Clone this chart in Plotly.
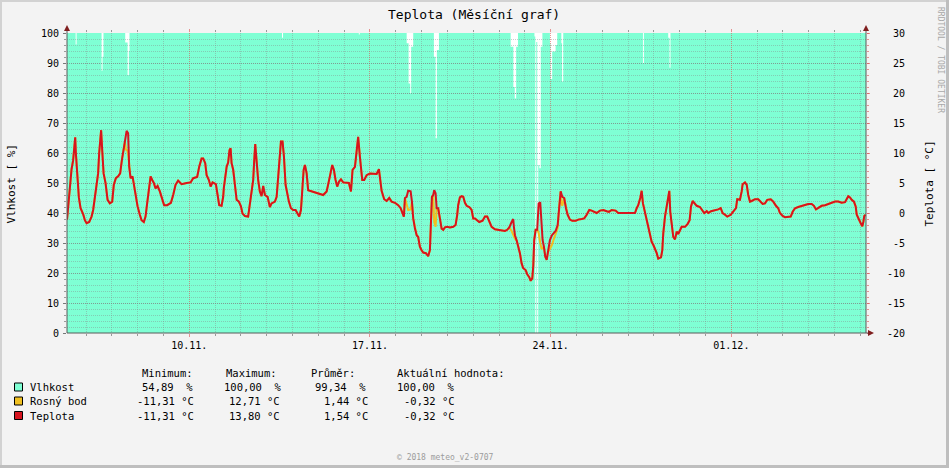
import pandas as pd
import plotly.graph_objects as go

# ---------------- texts ----------------
TITLE = "Teplota (Měsíční graf)"
LEFT_TITLE = "Vlhkost [ %]"
RIGHT_TITLE = "Teplota [ °C]"
WATERMARK = "RRDTOOL / TOBI OETIKER"
FOOTER = "© 2018 meteo_v2-0707"

# ---------------- time frame ----------------
ORIGIN = "2018-11-05 00:00"      # all hours below are counted from this moment
VIEW_START_H = 6.27
VIEW_END_H = 749.2
WEEK_TICK0 = "2018-11-10"

# ---------------- tick labels ----------------
HUM_TICKS = [0, 10, 20, 30, 40, 50, 60, 70, 80, 90, 100]
TEMP_TICKS = [-20, -15, -10, -5, 0, 5, 10, 15, 20, 25, 30]
TEMP_TICK_TEXT = ["-20", "-15", "-10", " -5", "  0", "  5", " 10", " 15", " 20", " 25", " 30"]

# ---------------- temperature [°C] ----------------
TEMP_HOURS = [
    6.3, 7.3, 8.9, 10.5, 12.0, 12.9, 13.9, 14.5, 15.7, 17.3,
    18.9, 21.3, 22.9, 24.5, 26.9, 29.1, 30.6, 32.2, 33.8, 35.2,
    36.2, 37.1, 38.0, 39.0, 40.3, 42.1, 44.0, 46.1, 48.3, 49.8,
    51.7, 53.8, 55.7, 57.3, 58.5, 60.1, 61.7, 63.1, 64.1, 65.4,
    67.2, 68.4, 70.0, 71.9, 74.0, 75.6, 77.7, 79.3, 80.8, 82.4,
    84.0, 85.5, 87.0, 88.6, 90.5, 92.6, 94.8, 96.6, 99.4, 102.9,
    105.0, 107.2, 109.6, 112.8, 117.5, 121.2, 123.6, 127.3, 129.2, 131.4,
    132.9, 134.8, 136.1, 138.2, 139.8, 141.6, 144.7, 146.3, 147.8, 150.0,
    151.5, 152.1, 153.1, 154.7, 156.1, 157.4, 158.4, 159.3, 160.8, 162.4,
    164.0, 166.1, 168.0, 169.5, 171.7, 174.7, 176.3, 177.9, 179.4, 180.3,
    181.3, 182.6, 184.0, 185.6, 187.2, 188.7, 190.3, 192.8, 194.9, 196.5,
    199.6, 201.2, 202.6, 204.2, 205.2, 206.7, 208.0, 209.5, 211.0, 212.6,
    214.5, 216.6, 218.8, 220.7, 222.2, 223.8, 225.0, 226.3, 227.5, 229.1,
    230.5, 232.1, 235.2, 238.4, 241.4, 244.5, 247.7, 249.1, 250.7, 252.9,
    254.4, 256.0, 257.5, 259.1, 261.0, 263.1, 266.3, 268.4, 270.3, 271.8,
    274.0, 275.6, 277.0, 278.6, 279.6, 280.8, 282.6, 284.9, 287.9, 291.0,
    294.2, 296.3, 297.2, 298.8, 301.2, 303.5, 305.9, 308.1, 311.2, 314.2,
    316.5, 318.3, 319.5, 320.5, 322.1, 323.5, 325.8, 327.0, 328.2, 329.8,
    331.4, 332.8, 334.4, 336.0, 337.5, 340.0, 342.1, 343.7, 344.7, 345.6,
    346.8, 347.7, 349.0, 350.0, 351.4, 353.0, 354.6, 356.1, 357.7, 359.8,
    362.3, 365.4, 367.6, 369.1, 370.0, 371.6, 373.2, 374.7, 376.3, 377.9,
    380.3, 382.5, 384.0, 385.6, 387.2, 389.6, 392.7, 394.9, 397.0, 398.9,
    401.1, 404.2, 407.2, 410.4, 413.5, 415.6, 417.5, 419.7, 421.2, 421.8,
    422.8, 424.4, 425.8, 427.4, 429.0, 430.5, 432.7, 434.2, 436.1, 437.4,
    438.9, 439.8, 440.7, 442.0, 443.5, 444.8, 446.3, 447.6, 448.5, 449.7,
    451.0, 452.3, 453.5, 455.3, 457.2, 459.0, 460.6, 462.5, 464.0, 465.3,
    466.8, 468.6, 470.2, 471.8, 473.9, 476.1, 479.2, 481.6, 484.8, 487.2,
    489.5, 491.9, 494.1, 496.5, 498.8, 501.8, 504.9, 508.1, 510.2, 512.7,
    516.4, 518.8, 522.0, 526.7, 531.3, 534.4, 536.0, 537.4, 539.3, 540.6,
    541.8, 543.7, 545.3, 546.7, 548.3, 549.9, 551.4, 553.0, 554.6, 556.0,
    558.6, 559.8, 560.7, 562.3, 563.9, 565.3, 566.3, 567.2, 568.5, 570.0,
    571.6, 573.2, 574.6, 576.2, 577.8, 580.9, 583.4, 585.2, 586.5, 588.0,
    589.5, 591.8, 594.8, 597.0, 598.8, 601.1, 602.5, 605.1, 608.1, 611.8,
    614.1, 615.9, 618.1, 620.2, 623.4, 625.8, 628.3, 629.5, 632.0, 633.6,
    634.5, 636.7, 638.3, 639.7, 641.3, 642.9, 646.0, 649.0, 651.3, 653.1,
    655.3, 657.4, 660.6, 663.0, 665.5, 667.6, 669.2, 671.7, 673.9, 677.0,
    679.2, 681.0, 683.2, 686.2, 689.4, 692.5, 695.5, 698.7, 700.8, 702.7,
    704.8, 708.0, 711.1, 714.1, 717.3, 720.4, 723.4, 726.6, 729.7, 731.3,
    732.7, 734.3, 735.9, 738.0, 739.6, 740.6, 741.8, 743.0, 744.3, 745.8,
    746.7, 747.6, 748.9,
]
TEMP_VALUES = [
    -1.1, 0.8, 4.1, 7.3, 8.8, 11.1, 12.6, 10.0, 5.8, 2.6,
    0.8, -0.2, -1.2, -1.7, -1.5, -0.6, 0.5, 2.7, 5.5, 6.6,
    10.0, 12.5, 13.8, 10.5, 6.6, 5.0, 2.2, 1.6, 1.9, 4.7,
    5.8, 6.1, 6.6, 8.8, 10.4, 11.9, 13.7, 13.3, 7.7, 5.8,
    6.1, 4.7, 2.5, 1.1, -0.3, -1.2, -1.5, -0.6, 1.6, 3.6,
    6.1, 5.5, 5.0, 4.1, 4.5, 3.6, 2.5, 1.3, 1.3, 1.7,
    3.0, 4.7, 5.4, 4.8, 5.0, 5.1, 5.8, 6.0, 7.7, 9.1,
    9.1, 8.3, 6.3, 5.5, 4.4, 5.1, 4.8, 3.3, 1.3, 1.2,
    2.7, 4.2, 5.8, 7.7, 8.4, 10.5, 10.8, 8.3, 7.2, 4.1,
    2.2, 1.9, 1.1, -0.1, -0.5, -0.6, 1.3, 3.6, 5.5, 8.6,
    11.5, 8.6, 5.5, 3.6, 2.8, 4.5, 3.0, 2.7, 1.0, 1.6,
    1.9, 2.7, 5.8, 9.4, 11.9, 11.9, 9.4, 4.7, 3.0, 1.9,
    0.8, 0.5, 0.5, -0.1, -0.6, 0.5, 4.1, 7.2, 8.0, 6.6,
    3.8, 3.7, 3.6, 3.3, 3.2, 3.0, 3.6, 5.0, 6.1, 8.0,
    7.2, 5.5, 4.4, 5.2, 5.6, 5.1, 5.1, 5.0, 3.6, 7.2,
    7.7, 10.8, 12.7, 9.4, 7.7, 5.5, 5.5, 6.3, 6.6, 6.5,
    6.5, 7.3, 5.5, 3.7, 2.3, 2.0, 2.5, 1.9, 1.7, 1.3,
    0.8, -0.3, -0.6, 2.5, 2.7, 3.7, 3.6, 1.9, -0.9, -2.6,
    -3.7, -4.0, -5.6, -6.2, -6.6, -6.7, -7.2, -6.2, -2.3, 2.7,
    3.0, 3.8, 3.3, 0.8, 0.8, -0.6, -2.6, -2.8, -2.4, -2.3,
    -2.4, -2.3, -2.0, -0.3, 1.3, 2.6, 2.8, 2.7, 1.7, 1.2,
    1.0, 0.5, -0.9, -0.9, -1.2, -1.5, -1.3, -0.6, -0.6, -1.5,
    -2.3, -2.7, -2.8, -3.0, -3.0, -2.8, -2.4, -1.5, -1.0, -2.3,
    -3.7, -4.6, -5.6, -6.7, -8.4, -9.2, -9.5, -10.2, -10.7, -11.3,
    -10.9, -8.9, -4.5, -2.8, -2.8, 1.6, 1.8, -1.2, -4.5, -5.6,
    -7.3, -7.8, -6.5, -4.5, -3.7, -3.4, -3.0, -2.0, 1.3, 3.6,
    2.7, 2.5, 0.8, -0.3, -1.1, -1.3, -1.3, -1.1, -1.0, -0.9,
    -0.3, 0.5, 0.4, 0.2, 0.0, 0.4, 0.5, 0.3, 0.2, 0.5,
    0.4, 0.0, 0.0, 0.0, 0.0, 0.0, 0.8, 1.3, 2.5, 3.7,
    1.6, 0.0, -0.9, -2.0, -3.4, -4.8, -5.3, -5.9, -6.7, -7.6,
    -7.4, -6.2, -3.4, -0.6, 1.1, 2.3, 3.7, 0.2, -2.0, -4.0,
    -4.4, -3.1, -3.5, -2.8, -2.3, -2.3, -1.8, -1.2, 1.1, 2.0,
    1.6, 1.2, 1.0, 0.5, 0.0, 0.3, 0.0, 0.3, 0.4, 0.6,
    0.8, 0.0, -0.3, -0.6, -0.3, 0.2, 0.8, 2.3, 2.2, 3.6,
    4.8, 5.1, 4.7, 3.0, 1.9, 2.0, 2.3, 2.3, 1.9, 1.5,
    1.6, 2.2, 2.3, 1.9, 1.2, 0.8, 0.0, -0.5, -0.7, -0.7,
    -0.6, 0.2, 0.8, 1.0, 1.2, 1.3, 1.5, 1.5, 1.2, 0.6,
    0.8, 1.2, 1.3, 1.5, 1.7, 1.9, 1.9, 1.7, 1.8, 2.5,
    2.8, 2.6, 2.2, 1.9, 1.1, -0.3, -0.9, -1.2, -1.7, -2.2,
    -1.5, -0.5, -0.3,
]

# ---------------- relative humidity [%] (step samples, None = no data) ----------------
HUM_HOURS = [
    6.3, 14.3, 15.2,
    38.4, 39.3, 40.2,
    60.4, 62.6, 63.8, 64.4,
    206.2, 207.1,
    277.6, 278.5,
    322.1, 323.9, 325.4, 326.3, 328.2,
    347.4, 349.0, 350.2, 352.1,
    418.8, 421.3, 422.6, 423.9, 425.6,
    440.9, 441.7, 441.8, 442.6, 443.5, 443.6, 444.4, 445.5, 446.8, 448.3,
    455.3, 455.9, 457.4, 460.6, 462.1,
    465.9, 466.6, 467.7,
    541.8, 542.7,
    565.3, 566.5, 567.4,
    749.2,
]
HUM_VALUES = [
    100, 96.2, 100,
    87.4, 92.1, 100,
    96.8, 86.0, 94.0, 100,
    98.4, 100,
    99.5, 100,
    96.6, 83.2, 79.9, 95.4, 100,
    92.1, 64.9, 94.3, 100,
    95.4, 82.0, 78.2, 95.4, 100,
    98.8, 98.8, None, 97.0, 97.0, None, 56.0, 54.9, 95.4, 100,
    96.6, 84.7, 93.8, 96.0, 100,
    96.6, 83.8, 100,
    89.9, 100,
    98.4, 88.4, 100,
    100,
]

# ---------------- dew point [°C]: stretches where it falls below the temperature ----------------
# (elsewhere the air is saturated and the dew point coincides with the temperature)
DEW_SEG_HOURS = [
    [60.1, 61.0, 62.4, 63.3, 64.1],
    [320.5, 322.1, 323.5, 325.8, 327.0],
    [346.8, 347.7, 349.0, 350.0],
    [417.5, 419.7, 421.2, 422.8, 424.4],
    [443.5, 444.8, 446.3, 447.6, 449.7],
    [453.5, 455.3, 457.2, 459.0, 460.6, 462.5],
    [465.3, 466.0, 466.8, 468.6],
]
DEW_SEG_VALUES = [
    [11.9, 10.6, 10.4, 9.5, 7.7],
    [2.5, 1.2, 0.5, 0.6, 1.9],
    [3.0, -1.5, -2.3, 0.8],
    [-2.4, -3.0, -3.6, -4.3, -4.6],
    [-2.8, -3.3, -5.0, -6.0, -5.6],
    [-6.5, -6.0, -5.3, -4.3, -3.3, -2.5],
    [3.6, 1.6, 1.2, 2.5],
]

# ---------------- legend / statistics ----------------
STAT_HEADERS = ["Minimum:", "Maximum:", "Průměr:", "Aktuální hodnota:"]
SERIES_NAMES = ["Vlhkost", "Rosný bod", "Teplota"]
SERIES_STATS = [
    ["54,89  %", "100,00  %", "99,34  %", "100,00  %"],
    ["-11,31 °C", "12,71 °C", "1,44 °C", "-0,32 °C"],
    ["-11,31 °C", "13,80 °C", "1,54 °C", "-0,32 °C"],
]

# ---------------- styles ----------------
HUM_COLOR = "#7FFFD4"
DEW_COLOR = "#F0C020"
TEMP_COLOR = "#D6141F"
SERIES_COLORS = [HUM_COLOR, DEW_COLOR, TEMP_COLOR]
MONO = "DejaVu Sans Mono"
BACK = "#F3F3F3"
GRID = "rgba(125,125,125,0.6)"
GRID_MINOR = "rgba(135,135,135,0.42)"
MGRID = "rgba(222,80,80,0.6)"
ARROW = "#7F1F1F"
AXIS = "#5a5a5a"

assert len(TEMP_HOURS) == len(TEMP_VALUES)
assert len(HUM_HOURS) == len(HUM_VALUES)

origin = pd.Timestamp(ORIGIN)


def at(hours):
    return [origin + pd.Timedelta(hours=h) for h in hours]


# humidity: split into contiguous known stretches (unknown data leaves a gap)
hum_segments = [[]]
for h, v in zip(HUM_HOURS, HUM_VALUES):
    if v is None:
        hum_segments.append([])
    else:
        hum_segments[-1].append((h, v))
hum_segments = [s for s in hum_segments if s]

# dew point series
windows = [(min(h), max(h)) for h in DEW_SEG_HOURS]
dew_pts = [(h, v) for h, v in zip(TEMP_HOURS, TEMP_VALUES)
           if not any(a <= h <= b for a, b in windows)]
for hs, vs in zip(DEW_SEG_HOURS, DEW_SEG_VALUES):
    dew_pts += list(zip(hs, vs))
dew_pts.sort()
dew_hours = [p[0] for p in dew_pts]
dew_values = [p[1] for p in dew_pts]

x_range = [origin + pd.Timedelta(hours=VIEW_START_H), origin + pd.Timedelta(hours=VIEW_END_H)]

fig = go.Figure()
for seg in hum_segments:
    fig.add_trace(go.Scatter(
        x=at([p[0] for p in seg]), y=[p[1] for p in seg], mode="lines", xaxis="x", yaxis="y",
        line=dict(width=0, shape="hv", color=HUM_COLOR), fill="tozeroy", fillcolor=HUM_COLOR,
        hoverinfo="skip", showlegend=False, name=SERIES_NAMES[0]))
fig.add_trace(go.Scatter(
    x=at(dew_hours), y=dew_values, mode="lines", xaxis="x2", yaxis="y2",
    line=dict(width=2, color=DEW_COLOR), hoverinfo="skip", showlegend=False, name=SERIES_NAMES[1]))
fig.add_trace(go.Scatter(
    x=at(TEMP_HOURS), y=TEMP_VALUES, mode="lines", xaxis="x2", yaxis="y2",
    line=dict(width=2, color=TEMP_COLOR), hoverinfo="skip", showlegend=False, name=SERIES_NAMES[2]))

PL, PT, PW, PH = 67, 33, 799, 300


def px_x(px):
    return (px - PL) / PW


def px_y(py):
    return (PT + PH - py) / PH


tickfont = dict(family=MONO, size=10, color="black")

fig.update_layout(
    width=949, height=468, autosize=False,
    margin=dict(l=PL, r=949 - PL - PW, t=PT, b=468 - PT - PH, pad=0),
    paper_bgcolor=BACK, plot_bgcolor="rgba(0,0,0,0)",
    hovermode=False, showlegend=False,
    xaxis=dict(type="date", range=x_range, visible=False, anchor="y", domain=[0, 1]),
    yaxis=dict(range=[0, 100], anchor="x", side="left", showgrid=False, zeroline=False,
               showline=False, tickmode="array", tickvals=HUM_TICKS,
               ticks="outside", ticklen=3, tickcolor="#777", tickfont=tickfont,
               ticklabelstandoff=2,
               minor=dict(tickmode="array", tickvals=list(range(0, 101, 2)),
                          ticks="outside", ticklen=2, tickcolor="#999", showgrid=False)),
    xaxis2=dict(type="date", range=x_range, anchor="y2", domain=[0, 1],
                showline=False, zeroline=False,
                tick0=WEEK_TICK0, dtick=7 * 86400000, tickformat="%d.%m.",
                ticks="outside", ticklen=3, tickcolor=MGRID, tickfont=tickfont,
                mirror="ticks",
                showgrid=True, gridcolor=MGRID, gridwidth=1, griddash="1px,1px",
                minor=dict(tick0=WEEK_TICK0, dtick=86400000, ticks="outside", ticklen=2,
                           tickcolor="#999", showgrid=True, gridcolor=GRID_MINOR,
                           gridwidth=1, griddash="1px,1px")),
    yaxis2=dict(range=[-20, 30], anchor="x2", side="right", domain=[0, 1],
                showline=False, zeroline=False,
                tickmode="array", tickvals=TEMP_TICKS,
                ticktext=[t.replace(" ", "\u00a0") for t in TEMP_TICK_TEXT],
                ticks="outside", ticklen=3, tickcolor=MGRID, tickfont=tickfont,
                ticklabelstandoff=15,
                showgrid=True, gridcolor=GRID, gridwidth=1, griddash="1px,1px",
                minor=dict(tickmode="array", tickvals=list(range(-20, 31)),
                           ticks="outside", ticklen=2, tickcolor=MGRID,
                           showgrid=True, gridcolor=GRID_MINOR, gridwidth=1,
                           griddash="1px,1px")),
)

shapes = []
# white canvas of the plot area, under all subplots
shapes.append(dict(type="rect", xref="paper", yref="paper", layer="below",
                   x0=0, x1=1, y0=0, y1=1, fillcolor="white", line=dict(width=0)))
# frame of the canvas
for (x0, y0, x1, y1, c) in [(0, 0, 949, 2, "#D2D2D2"), (0, 0, 2, 468, "#D2D2D2"),
                            (946, 0, 949, 468, "#BEBEBE"), (0, 465, 949, 468, "#BEBEBE")]:
    shapes.append(dict(type="rect", xref="paper", yref="paper", layer="above",
                       x0=px_x(x0), x1=px_x(x1), y0=px_y(y0), y1=px_y(y1),
                       fillcolor=c, line=dict(width=0)))
# axis lines
shapes.append(dict(type="line", xref="paper", yref="paper", layer="above",
                   x0=0, x1=0, y0=0, y1=px_y(30), line=dict(color=AXIS, width=1)))
shapes.append(dict(type="line", xref="paper", yref="paper", layer="above",
                   x0=1, x1=1, y0=0, y1=px_y(30), line=dict(color=AXIS, width=1)))
shapes.append(dict(type="line", xref="paper", yref="paper", layer="above",
                   x0=0, x1=px_x(870), y0=0, y1=0, line=dict(color=AXIS, width=1)))
# arrows
for path in [
    f"M {px_x(64)},{px_y(31)} L {px_x(70)},{px_y(31)} L {px_x(67)},{px_y(25)} Z",
    f"M {px_x(863)},{px_y(31)} L {px_x(869)},{px_y(31)} L {px_x(866)},{px_y(25)} Z",
    f"M {px_x(868)},{px_y(330)} L {px_x(868)},{px_y(336)} L {px_x(874)},{px_y(333)} Z",
]:
    shapes.append(dict(type="path", xref="paper", yref="paper", layer="above", path=path,
                       fillcolor=ARROW, line=dict(width=0)))

annotations = []


def txt(text, x, y, size=10.5, color="black", xanchor="left", angle=0):
    annotations.append(dict(text=text, xref="paper", yref="paper", x=px_x(x), y=px_y(y),
                            xanchor=xanchor, yanchor="middle", showarrow=False,
                            textangle=angle, font=dict(family=MONO, size=size, color=color)))


txt(TITLE, 474, 14, size=13, xanchor="center")
txt(LEFT_TITLE, 11, 184.5, size=11, xanchor="center", angle=-90)
txt(RIGHT_TITLE, 929, 183.5, size=11, xanchor="center", angle=-90)
txt(WATERMARK, 940, 60, size=8, color="#A8A8A8", xanchor="center", angle=90)
txt(FOOTER, 395, 457, size=8, color="#9C9C9C")

header_x = [140, 224, 309, 395]
row_y = [387, 401, 415.5]
value_x = [[140, 222, 313, 395], [135, 227, 322, 402], [135, 227, 322, 402]]
for hx, h in zip(header_x, STAT_HEADERS):
    txt(h, hx, 373)
for i, name in enumerate(SERIES_NAMES):
    y = row_y[i]
    shapes.append(dict(type="rect", xref="paper", yref="paper", layer="above",
                       x0=px_x(14.5), x1=px_x(22.5), y0=px_y(y - 4), y1=px_y(y + 4),
                       fillcolor=SERIES_COLORS[i], line=dict(color="black", width=1)))
    txt(name, 28, y)
    for vx, s in zip(value_x[i], SERIES_STATS[i]):
        txt(s, vx, y)

fig.update_layout(shapes=shapes, annotations=annotations)

fig.write_html("out.html", config=dict(displayModeBar=False, staticPlot=True),
               post_script="document.body.style.margin='0';document.body.style.overflow='hidden';")
